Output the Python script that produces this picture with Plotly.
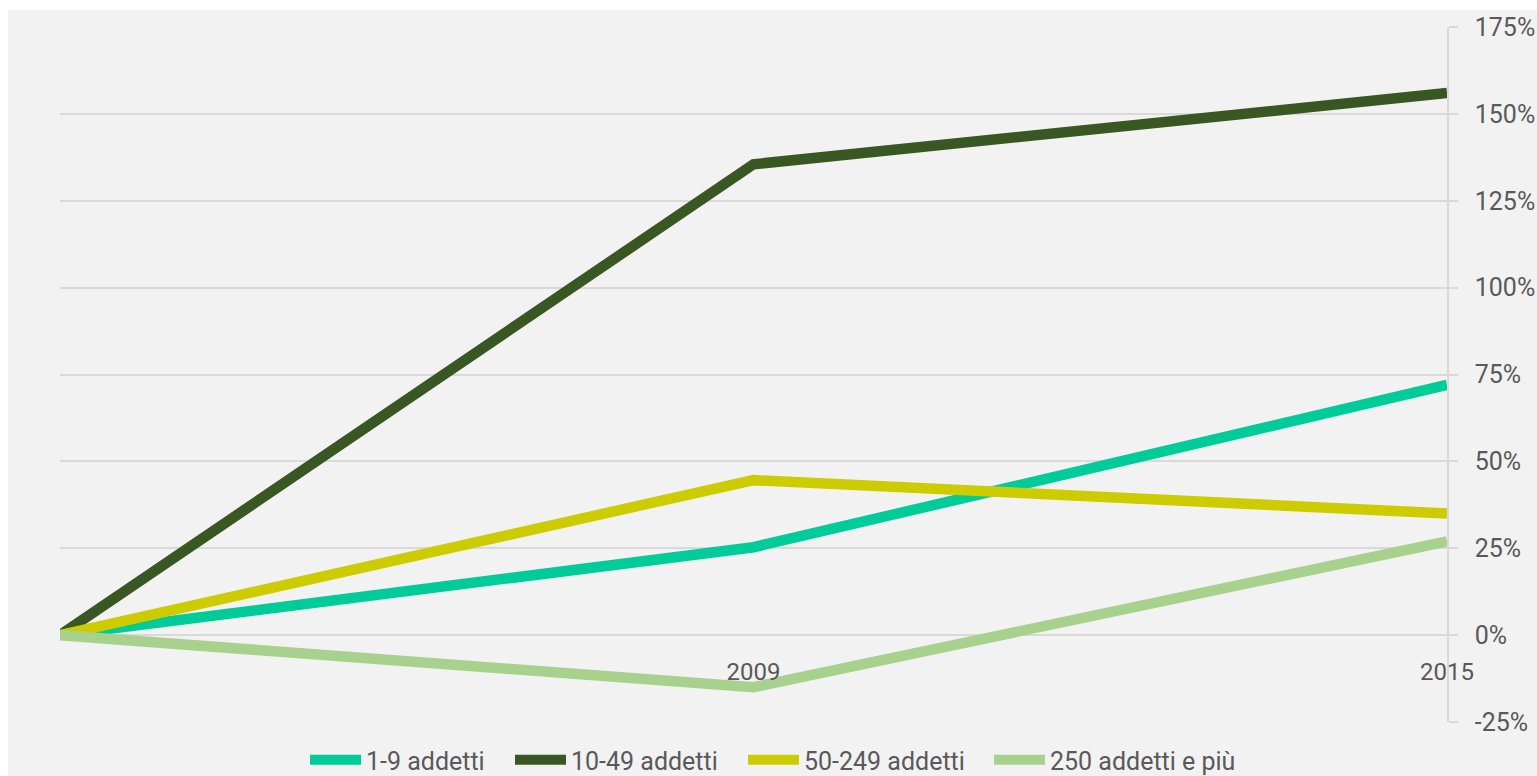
import plotly.graph_objects as go

# Data (percent change vs. base year)
years = [" ", "2009", "2015"]
series_names = ["1-9 addetti", "10-49 addetti", "50-249 addetti", "250 addetti e più"]
v_1_9 = [0, 25.3, 72]
v_10_49 = [0, 135.5, 156]
v_50_249 = [0, 44.6, 35]
v_250 = [0, -15, 27]
values = [v_1_9, v_10_49, v_50_249, v_250]
colors = ["#00cc99", "#385723", "#cccc00", "#a9d18e"]
y_ticks = [-25, 0, 25, 50, 75, 100, 125, 150, 175]
y_ticktext = [f"{v}%" for v in y_ticks]

FONT = "Roboto"
TXT = "#595959"
GRID = "#d9d9d9"

# plot area: x 60..1447, y 27..722
L, R, T, B = 60, 1447, 27, 722
W, H = 1537, 776
pw, ph = R - L, B - T

# legend entry left edges (px) – one legend per series
legend_px = [313, 518, 751, 997]
legend_ids = ["legend", "legend2", "legend3", "legend4"]

fig = go.Figure()
for name, vals, col, lid in zip(series_names, values, colors, legend_ids):
    fig.add_trace(go.Scatter(
        x=years, y=vals, mode="lines", name=name, legend=lid,
        line=dict(color=col, width=10.5),
    ))

layout_legends = {}
for lid, px in zip(legend_ids, legend_px):
    layout_legends[lid] = dict(
        orientation="h", x=(px - 8 - L) / pw, xanchor="left",
        y=(B - 760) / ph, yanchor="middle",
        font=dict(family=FONT, size=25, color=TXT),
        bgcolor="rgba(0,0,0,0)", itemwidth=51,
    )

fig.update_layout(
    width=W, height=H,
    margin=dict(l=L, r=W - R, t=T, b=H - B, pad=0, autoexpand=False),
    paper_bgcolor="white",
    plot_bgcolor="#f2f2f2",
    font=dict(family=FONT, color=TXT, size=24),
    showlegend=True,
    xaxis=dict(
        type="category", categoryorder="array", categoryarray=years,
        range=[0, len(years) - 1],
        showgrid=False, zeroline=False, showline=False,
        anchor="free", position=(0 - y_ticks[0]) / (y_ticks[-1] - y_ticks[0]),
        ticks="", ticklabelstandoff=20,
        tickfont=dict(family=FONT, size=24, color=TXT),
    ),
    yaxis=dict(
        side="right", range=[y_ticks[0], y_ticks[-1]],
        tickmode="array", tickvals=y_ticks, ticktext=y_ticktext,
        showgrid=True, gridcolor=GRID, gridwidth=1.5,
        zeroline=False,
        showline=True, linecolor=GRID, linewidth=1.5,
        ticks="outside", ticklen=9, tickcolor=GRID, tickwidth=1.5,
        ticklabelstandoff=12,
        tickfont=dict(family=FONT, size=25, color=TXT),
    ),
    shapes=[dict(
        type="rect", xref="paper", yref="paper", layer="below",
        x0=(8 - L) / pw, x1=(W + 20 - L) / pw,
        y0=(B - H - 20) / ph, y1=(B - 10) / ph,
        fillcolor="#f2f2f2", line=dict(width=0),
    )],
    **layout_legends,
)

fig.write_html("out.html")
